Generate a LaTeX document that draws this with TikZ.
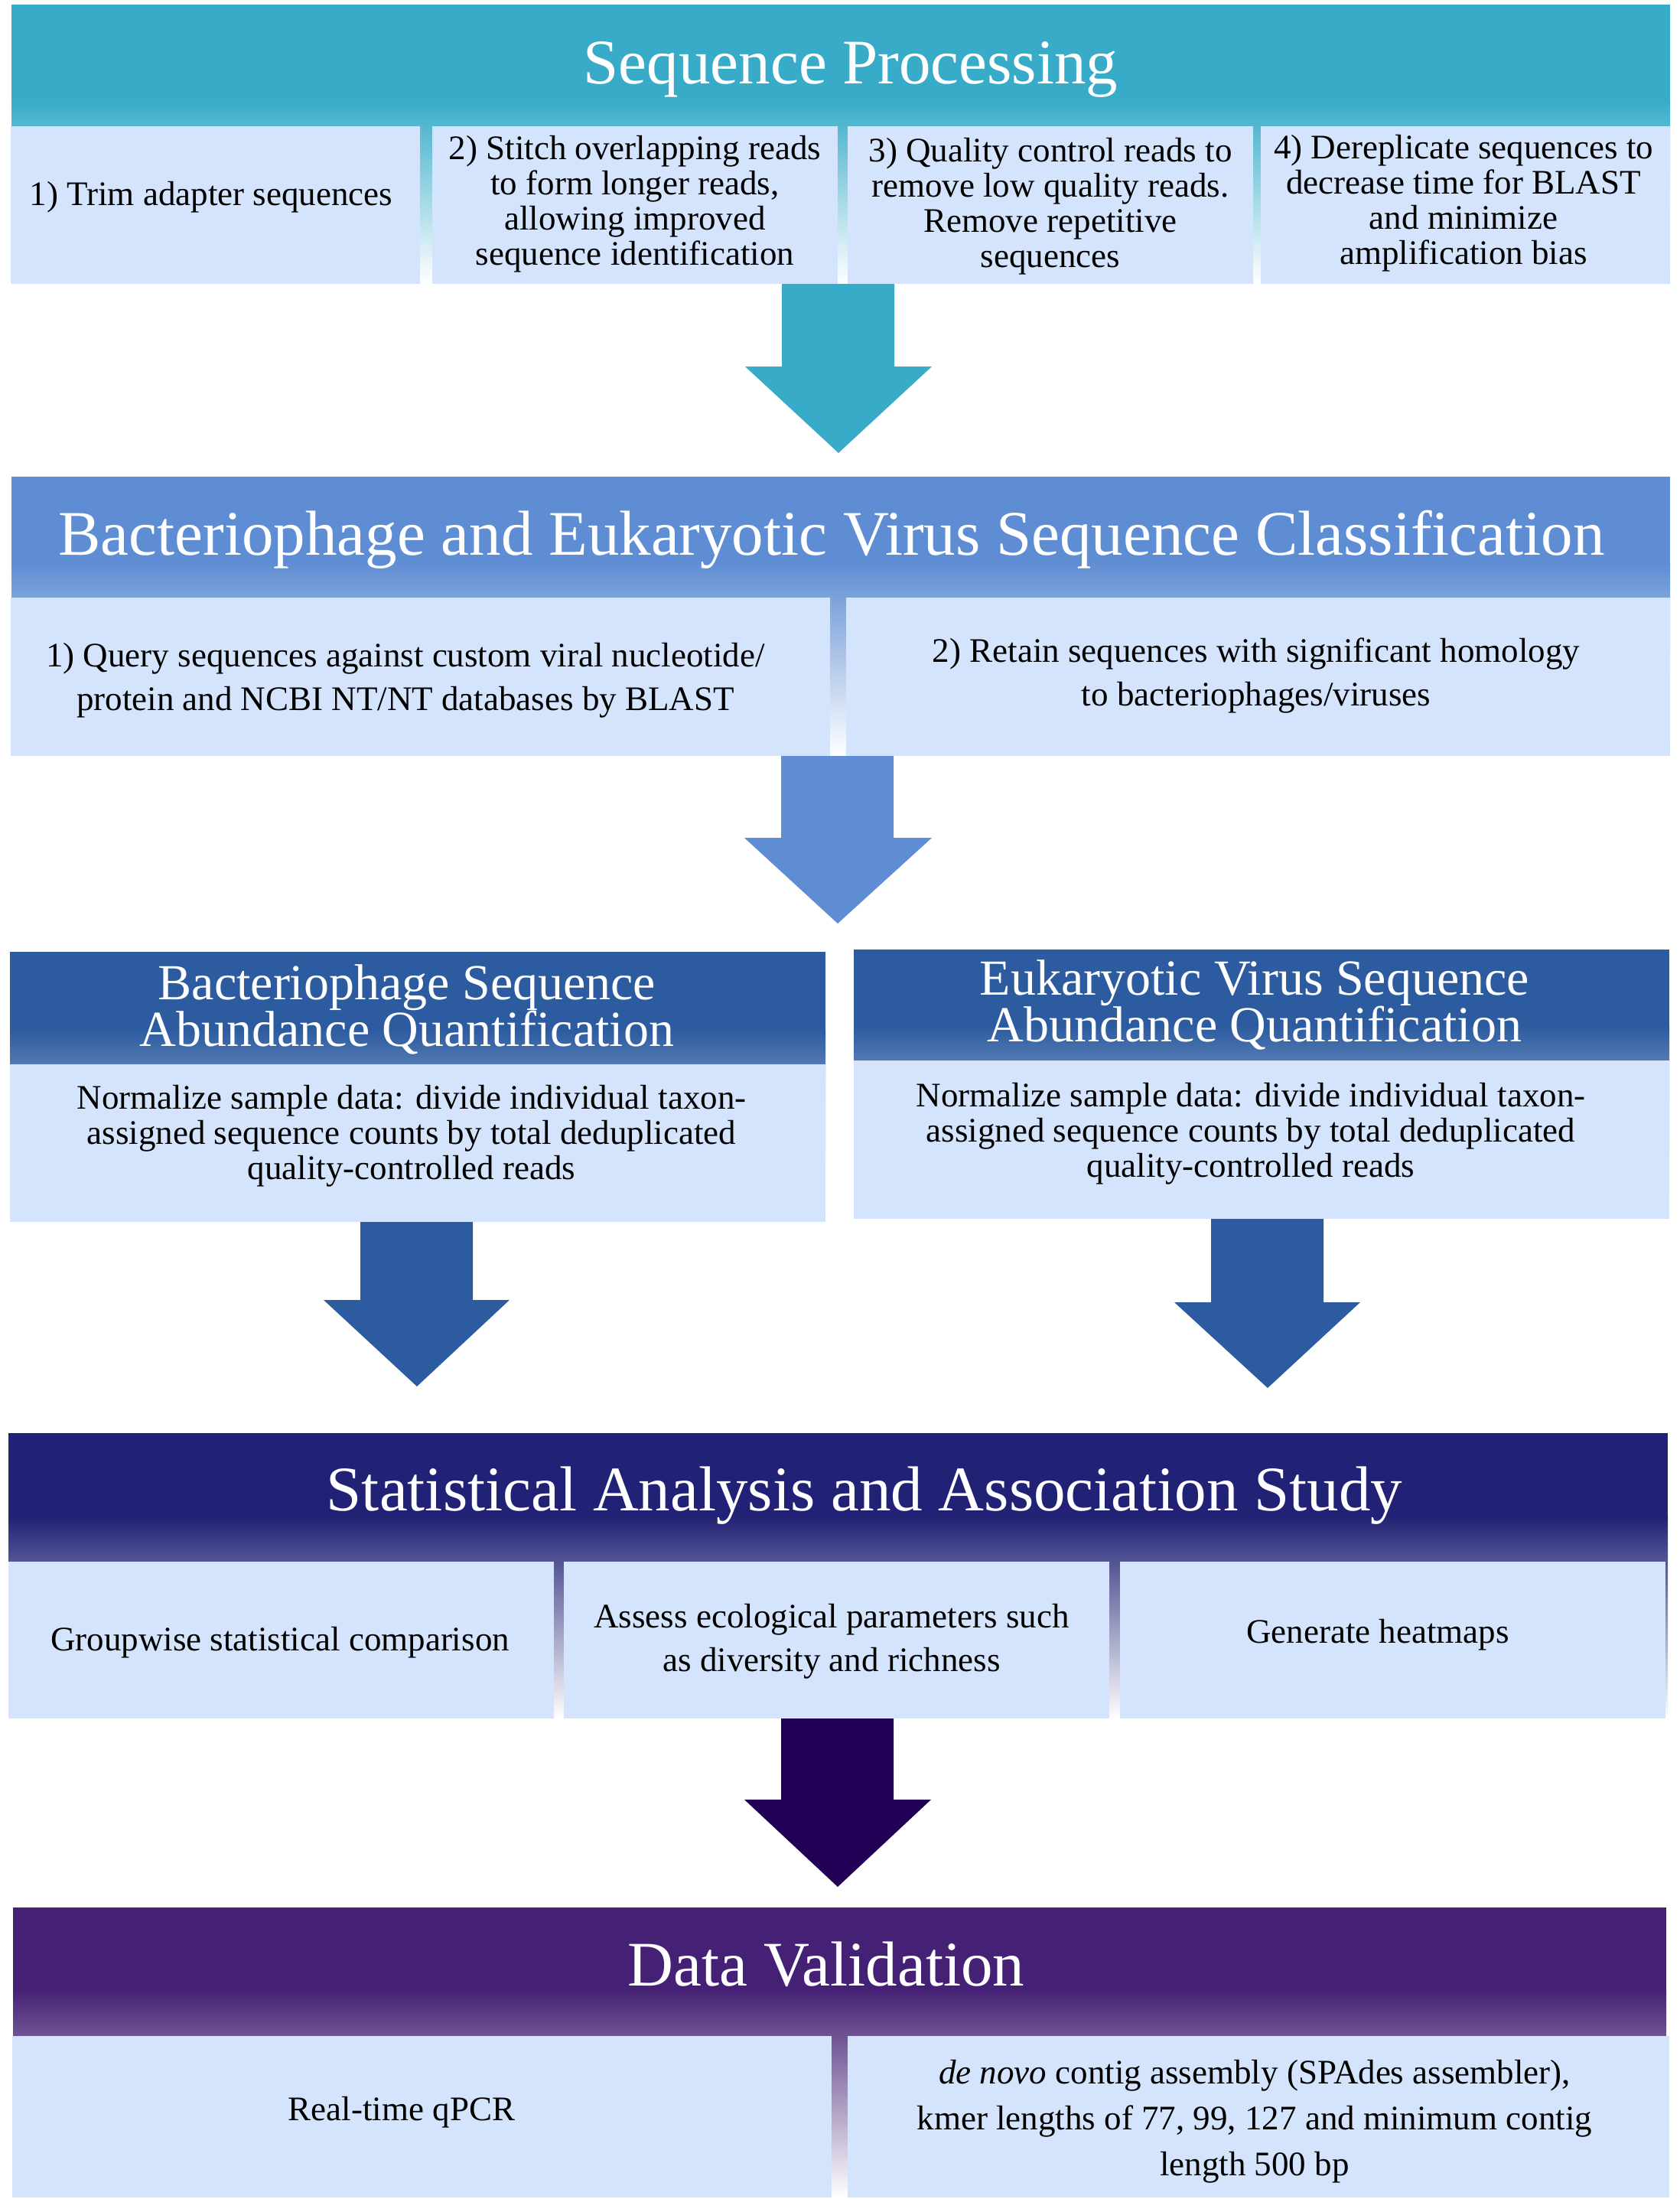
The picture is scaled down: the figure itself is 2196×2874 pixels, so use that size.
\documentclass[tikz,border=0pt]{standalone}
\usepackage{fontspec}
\setmainfont{Liberation Serif}
\usepackage{tikz}
\definecolor{tyabcy}{rgb}{0.2196,0.6706,0.7843}
\definecolor{vfyddt}{rgb}{0.3725,0.5529,0.8275}
\definecolor{scvbaq}{rgb}{0.1725,0.3569,0.6275}
\definecolor{srsrxv}{rgb}{0.1294,0.1294,0.4588}
\definecolor{uvsrxv}{rgb}{0.2706,0.1294,0.4588}
\definecolor{ssqqvv}{rgb}{0.1333,0.,0.3333}
\definecolor{dueufc}{rgb}{0.8314,0.8941,0.9882}
\tikzset{
  hdtext/.style={text=white,inner sep=0pt,font=\fontsize{20.75}{24}\selectfont},
  subhdtext/.style={text=white,inner sep=0pt,align=center,font=\fontsize{16.5}{15.25}\selectfont},
  bodytext/.style={inner sep=0pt,font=\fontsize{11.25}{11.5}\selectfont},
  tighttext/.style={inner sep=0pt,align=center,font=\fontsize{11.25}{11.5}\selectfont},
  loosetext/.style={inner sep=0pt,align=center,font=\fontsize{11.25}{14.25}\selectfont}
}

\begin{document}
\begin{tikzpicture}[line cap=round,line join=round,x=0.25pt,y=-0.25pt]
            \useasboundingbox (0,0) rectangle (2196,2874);
            \fill[color=tyabcy] (15,6) rectangle (2183,130);
            \shade[top color=tyabcy,bottom color=white] (15,130) rectangle (2183,371);
            \fill[color=dueufc] (14,165) rectangle (549,371);
            \fill[color=dueufc] (565,165) rectangle (1095,371);
            \fill[color=dueufc] (1108,165) rectangle (1638,371);
            \fill[color=dueufc] (1648,165) rectangle (2183,371);
            \draw (1112,109) node (seqhd) [hdtext,anchor=base] {Sequence Processing};
            \draw (276,268) node (seqa) [bodytext,anchor=base] {1) Trim adapter sequences};
            \draw (830,267) node (seqb) [tighttext] {2) Stitch overlapping reads\\to form longer reads,\\allowing improved\\sequence identification};
            \draw (1373,270) node (seqc) [tighttext] {3) Quality control reads to\\remove low quality reads.\\Remove repetitive\\sequences};
            \draw (1913,266) node (seqd) [tighttext] {4) Dereplicate sequences to\\decrease time for BLAST\\and minimize\\amplification bias};
            \fill[color=tyabcy] (1022,371) -- (1169,371) -- (1169,479) -- (1218,479) -- (1096,592) -- (974,479) -- (1022,479) -- cycle;
            \fill[color=vfyddt] (15,623) rectangle (2183,735);
            \shade[top color=vfyddt,bottom color=white] (15,735) rectangle (2183,988);
            \fill[color=dueufc] (14,781) rectangle (1085,988);
            \fill[color=dueufc] (1106,781) rectangle (2183,988);
            \draw (1087,725) node (clshd) [hdtext,anchor=base] {Bacteriophage and Eukaryotic Virus Sequence Classification};
            \draw (530,889) node (clsa) [loosetext] {1) Query sequences against custom viral nucleotide/\\protein and NCBI NT/NT databases by BLAST};
            \draw (1642,883) node (clsb) [loosetext] {2) Retain sequences with significant homology\\to bacteriophages/viruses};
            \fill[color=vfyddt] (1021,988) -- (1168,988) -- (1168,1095) -- (1218,1095) -- (1095,1207) -- (973,1095) -- (1021,1095) -- cycle;
            \fill[color=scvbaq] (13,1244) rectangle (1079,1345);
            \shade[top color=scvbaq,bottom color=white] (13,1345) rectangle (1079,1597);
            \fill[color=dueufc] (13,1391) rectangle (1079,1597);
            \fill[color=scvbaq] (1116,1241) rectangle (2182,1340);
            \shade[top color=scvbaq,bottom color=white] (1116,1340) rectangle (2182,1593);
            \fill[color=dueufc] (1116,1386) rectangle (2182,1593);
            \draw (532,1319) node (phghd) [subhdtext] {Bacteriophage Sequence\\Abundance Quantification};
            \draw (1640,1313) node (euvhd) [subhdtext] {Eukaryotic Virus Sequence\\Abundance Quantification};
            \draw (538,1485) node (phgnorm) [tighttext] {Normalize sample data: divide individual taxon-\\assigned sequence counts by total deduplicated\\quality-controlled reads};
            \draw (1635,1482) node (euvnorm) [tighttext] {Normalize sample data: divide individual taxon-\\assigned sequence counts by total deduplicated\\quality-controlled reads};
            \fill[color=scvbaq] (471,1597) -- (618,1597) -- (618,1699) -- (666,1699) -- (545,1812) -- (423,1699) -- (471,1699) -- cycle;
            \fill[color=scvbaq] (1583,1593) -- (1730,1593) -- (1730,1702) -- (1778,1702) -- (1657,1814) -- (1535,1702) -- (1583,1702) -- cycle;
            \fill[color=srsrxv] (11,1873) rectangle (2180,1980);
            \shade[top color=srsrxv,bottom color=white] (11,1980) rectangle (2180,2246);
            \fill[color=dueufc] (11,2041) rectangle (724,2246);
            \fill[color=dueufc] (737,2041) rectangle (1450,2246);
            \fill[color=dueufc] (1464,2041) rectangle (2177,2246);
            \draw (1130,1974) node (stathd) [hdtext,anchor=base] {Statistical Analysis and Association Study};
            \draw (366,2157) node (stata) [bodytext,anchor=base] {Groupwise statistical comparison};
            \draw (1087,2145) node (statb) [loosetext] {Assess ecological parameters such\\as diversity and richness};
            \draw (1801,2147) node (statc) [bodytext,anchor=base] {Generate heatmaps};
            \fill[color=ssqqvv] (1021,2246) -- (1168,2246) -- (1168,2352) -- (1217,2352) -- (1095,2466) -- (973,2352) -- (1021,2352) -- cycle;
            \fill[color=uvsrxv] (17,2493) rectangle (2178,2600);
            \shade[top color=uvsrxv,bottom color=white] (17,2600) rectangle (2178,2872);
            \fill[color=dueufc] (16,2661) rectangle (1087,2872);
            \fill[color=dueufc] (1108,2661) rectangle (2182,2872);
            \draw (1080,2595) node (valhd) [hdtext,anchor=base] {Data Validation};
            \draw (525,2771) node (vala) [bodytext,anchor=base] {Real-time qPCR};
            \draw (1640,2773) node (valb) [loosetext,font=\fontsize{11.25}{15}\selectfont] {\textit{de novo} contig assembly (SPAdes assembler),\\kmer lengths of 77, 99, 127 and minimum contig\\length 500 bp};
\end{tikzpicture}
\end{document}
